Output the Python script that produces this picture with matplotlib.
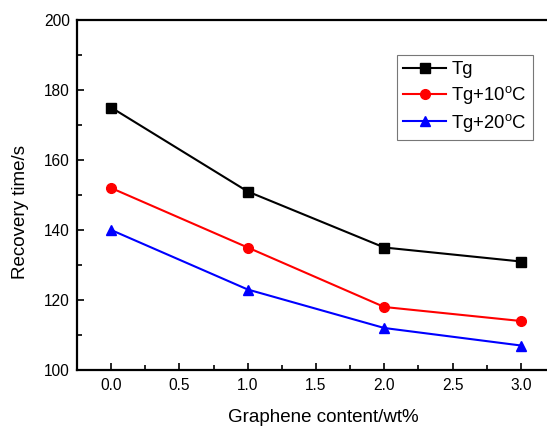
import matplotlib
matplotlib.use("Agg")
import matplotlib.pyplot as plt
from matplotlib.ticker import MultipleLocator, FormatStrFormatter

plt.rcParams['font.family'] = ['Liberation Sans', 'DejaVu Sans']

content = [0.0, 1.0, 2.0, 3.0]
tg = [175, 151, 135, 131]
tg10 = [152, 135, 118, 114]
tg20 = [140, 123, 112, 107]
labels = ['Tg', 'Tg+10$^\\mathregular{o}$C', 'Tg+20$^\\mathregular{o}$C']

W, H = 547, 426
fig = plt.figure(figsize=(W/100, H/100), dpi=100)
ax_left, ax_right, ax_top, ax_bot = 77, 555, 20, 370
ax = fig.add_axes([ax_left/W, (H-ax_bot)/H, (ax_right-ax_left)/W, (ax_bot-ax_top)/H])
aw, ah = ax_right-ax_left, ax_bot-ax_top

ax.plot(content, tg, color='black', marker='s', markersize=6.5, lw=1.5, label=labels[0])
ax.plot(content, tg10, color='red', marker='o', markersize=7, lw=1.5, label=labels[1])
ax.plot(content, tg20, color='blue', marker='^', markersize=7.5, lw=1.5, label=labels[2])

ax.set_xlim(-0.25, 3.25)
ax.set_ylim(100, 200)
ax.xaxis.set_major_locator(MultipleLocator(0.5))
ax.xaxis.set_minor_locator(MultipleLocator(0.25))
ax.yaxis.set_major_locator(MultipleLocator(20))
ax.yaxis.set_minor_locator(MultipleLocator(10))
ax.tick_params(which='both', direction='in', width=1.2, labelsize=11.2)
ax.tick_params(which='major', length=5)
ax.tick_params(axis='y', which='major', pad=5)
ax.tick_params(axis='x', which='major', pad=6)
ax.tick_params(which='minor', length=3.5)
ax.xaxis.set_major_formatter(FormatStrFormatter('%.1f'))
for s in ax.spines.values():
    s.set_linewidth(1.6)

ax.set_xlabel('Graphene content/wt%', fontsize=13.5)
ax.set_ylabel('Recovery time/s', fontsize=13.5)
ax.xaxis.set_label_coords((323-ax_left)/aw, (ax_bot-417)/ah)
ax.xaxis.label.set_va('center')
ax.yaxis.set_label_coords((21-ax_left)/aw, (ax_bot-212)/ah)
ax.yaxis.label.set_va('center')

leg = ax.legend(loc='upper left', bbox_to_anchor=((397-ax_left)/aw, (ax_bot-55)/ah),
                borderaxespad=0, fontsize=13.3, frameon=True, fancybox=False,
                edgecolor='#555555', handlelength=2.3, borderpad=0.35,
                labelspacing=0.3, handletextpad=0.3)
leg.get_frame().set_linewidth(0.8)

fig.savefig('out.png', dpi=100)
